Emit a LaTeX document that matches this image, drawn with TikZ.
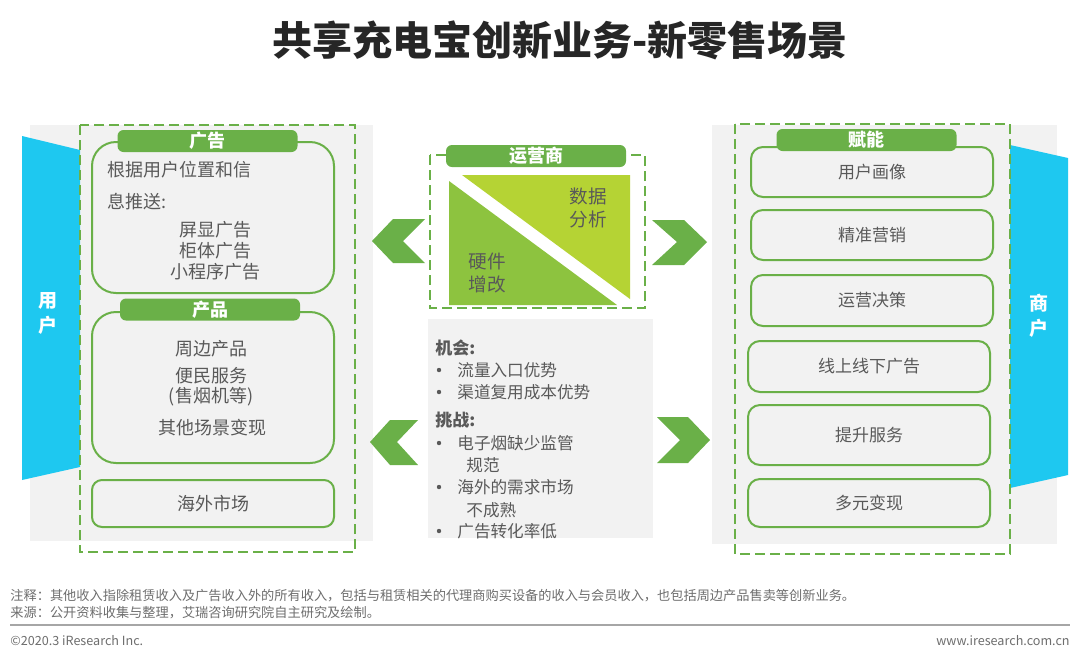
\documentclass[tikz,border=0pt]{standalone}
\usepackage{fontspec}
\setmainfont{Noto Sans CJK SC}
\usetikzlibrary{positioning}
\definecolor{gLine}{RGB}{106,176,72}
\definecolor{gHard}{RGB}{141,195,63}
\definecolor{gSoft}{RGB}{181,211,52}
\definecolor{bSide}{RGB}{30,200,240}
\definecolor{pGray}{RGB}{242,242,242}
\definecolor{tGray}{RGB}{89,89,89}
\definecolor{nGray}{RGB}{110,110,110}
\tikzset{
  panel/.style={fill=pGray, draw=none},
  zone/.style={draw=gLine, line width=1.2pt, dash pattern=on 5pt off 2.5pt},
  card/.style={draw=gLine, line width=1pt, rounded corners=6pt, text=tGray,
    font=\fontsize{8.5}{10}\selectfont, minimum width=121pt, inner sep=0pt},
  tag/.style={fill=gLine, rounded corners=3pt, text=white, inner sep=0pt,
    font=\bfseries\fontsize{9}{10}\selectfont, minimum width=90pt, minimum height=11pt},
  body/.style={text=tGray, font=\fontsize{9}{11}\selectfont, inner sep=0pt},
  note/.style={text=tGray, font=\fontsize{8.3}{10}\selectfont, inner sep=0pt, anchor=west},
  side/.style={text=white, font=\bfseries\fontsize{9.5}{12.5}\selectfont, align=center, inner sep=0pt},
  foot/.style={text=nGray, font=\fontsize{6.6}{8}\selectfont, inner sep=0pt},
}
\begin{document}
\begin{tikzpicture}[x=0.5pt, y=-0.5pt]
    \useasboundingbox[fill=white] (0,0) rectangle (1080,660);

    \node[font=\bfseries\fontsize{20}{24}\selectfont, text=black!85, inner sep=0pt] (title) at (560,40) {共享充电宝创新业务-新零售场景};

    % users side
    \fill[panel] (30,125) rectangle (373,541);
    \fill[bSide] (22,136) -- (80,150) -- (80,467) -- (22,480) -- cycle;
    \node[side] (users) at (48,313) {用\\户};
    \draw[zone] (80,125) rectangle (355,552);

    \draw[gLine, line width=1pt, rounded corners=12pt] (92,142) rectangle (334,293);
    \node[tag] (ads) at (207.5,141) {广告};
    \node[body, anchor=west] (adsA) at (107,170) {根据用户位置和信};
    \node[body, anchor=west] (adsB) at (107,202) {息推送:};
    \node[body] (adsC) at (215,230) {屏显广告};
    \node[body] (adsD) at (215,251) {柜体广告};
    \node[body] (adsE) at (215,272) {小程序广告};

    \draw[gLine, line width=1pt, rounded corners=12pt] (92,312) rectangle (334,463);
    \node[tag] (prod) at (210,309.5) {产品};
    \node[body] (prodA) at (211,349) {周边产品};
    \node[body] (prodB) at (211,376) {便民服务};
    \node[body] (prodC) at (211,397) {(售烟机等)};
    \node[body] (prodD) at (212,428) {其他场景变现};

    \node[card, rounded corners=5pt, minimum height=23.5pt, font=\fontsize{9}{11}\selectfont] (abroad) at (213,503.5) {海外市场};

    % operator
    \draw[zone] (430,155) rectangle (645,308);
    \fill[gHard] (449,181) -- (449,305) -- (617,305) -- cycle;
    \fill[gSoft] (462,175) -- (630,175) -- (630,299) -- cycle;
    \node[tag] (oper) at (536,156) {运营商};
    \node[body, align=center, font=\fontsize{9.3}{11.5}\selectfont] (data) at (588,208) {数据\\分析};
    \node[body, align=center, font=\fontsize{9.3}{11.5}\selectfont] (hard) at (487,273) {硬件\\增改};

    \fill[panel] (428,319) rectangle (653,538);
    \node[note, font=\bfseries\fontsize{8.5}{10}\selectfont] (chance) at (435,348) {机会:};
    \node[note] (c1) at (457,370) {流量入口优势};
    \node[note] (c2) at (457,392) {渠道复用成本优势};
    \node[note, font=\bfseries\fontsize{8.5}{10}\selectfont] (risk) at (435,420) {挑战:};
    \node[note] (r1) at (457,443) {电子烟缺少监管};
    \node[note] (r1b) at (466,465) {规范};
    \node[note] (r2) at (457,487) {海外的需求市场};
    \node[note] (r2b) at (466,510) {不成熟};
    \node[note] (r3) at (457,531) {广告转化率低};
    \foreach \yy in {370,392,443,487,531}
        \fill[tGray] (439,\yy) circle (1.1pt);

    % chevrons
    \fill[gLine] (372,241) -- (393,219) -- (425,219) -- (403,241) -- (425,263) -- (393,263) -- cycle;
    \fill[gLine] (370,442) -- (390,420) -- (418,420) -- (397,442) -- (418,465) -- (390,465) -- cycle;
    \fill[gLine] (707,242) -- (684,220) -- (652,220) -- (677,242) -- (652,265) -- (684,265) -- cycle;
    \fill[gLine] (710,440) -- (688,417) -- (657,417) -- (680,440) -- (657,463) -- (688,463) -- cycle;

    % merchants side
    \fill[panel] (712,125) rectangle (1057,544);
    \fill[bSide] (1010,145) -- (1068,158) -- (1068,475) -- (1010,488) -- cycle;
    \node[side] (shops) at (1039,316) {商\\户};
    \draw[zone] (735,124) rectangle (1010,554);

    \node[card, minimum height=25pt] (portrait) at (872,172) {用户画像};
    \node[tag] (power) at (866.5,140) {赋能};
    \node[card, minimum height=25pt] (market) at (872,235) {精准营销};
    \node[card, minimum height=25.5pt] (decide) at (872,300.5) {运营决策};
    \node[card, minimum height=25.5pt] (online) at (869,366.5) {线上线下广告};
    \node[card, minimum height=30pt] (service) at (869,435) {提升服务};
    \node[card, minimum height=24pt] (multi) at (869,503) {多元变现};

    % footer
    \node[foot, anchor=west] (remark) at (10,596) {注释：其他收入指除租赁收入及广告收入外的所有收入，包括与租赁相关的代理商购买设备的收入与会员收入，也包括周边产品售卖等创新业务。};
    \node[foot, anchor=west] (source) at (10,613) {来源：公开资料收集与整理，艾瑞咨询研究院自主研究及绘制。};
    \draw[black!35, line width=1pt] (10,625) -- (1070,625);
    \node[foot, anchor=west, font=\fontsize{6.3}{8}\selectfont] (copy) at (10,641) {©2020.3 iResearch Inc.};
    \node[foot, anchor=east, font=\fontsize{6.3}{8}\selectfont] (site) at (1070,641) {www.iresearch.com.cn};
\end{tikzpicture}
\end{document}
